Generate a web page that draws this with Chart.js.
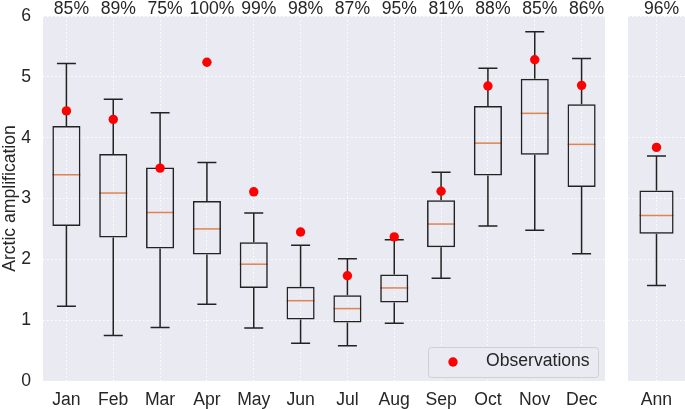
<!DOCTYPE html>
<html>
<head>
<meta charset="utf-8">
<script src="https://cdn.jsdelivr.net/npm/chart.js@4.4.1/dist/chart.umd.min.js"></script>
<style>
  body { margin: 0; background: #fff; }
  canvas { position: absolute; top: 0; }
  #monthly { left: 0; }
  #annual { left: 605px; }
</style>
</head>
<body>
<canvas id="monthly" width="605" height="409"></canvas>
<canvas id="annual" width="80" height="409"></canvas>
<script>
// monthly box plot values
const months = ['Jan', 'Feb', 'Mar', 'Apr', 'May', 'Jun', 'Jul', 'Aug', 'Sep', 'Oct', 'Nov', 'Dec'];
const whiskLow  = [1.23, 0.75, 0.88, 1.26, 0.87, 0.62, 0.58, 0.95, 1.69, 2.55, 2.48, 2.09];
const quart1    = [2.55, 2.36, 2.18, 2.08, 1.53, 1.01, 0.96, 1.29, 2.20, 3.38, 3.72, 3.19];
const medians   = [3.39, 3.09, 2.77, 2.50, 1.92, 1.32, 1.19, 1.53, 2.58, 3.91, 4.40, 3.89];
const quart3    = [4.19, 3.73, 3.51, 2.96, 2.28, 1.55, 1.41, 1.75, 2.97, 4.52, 4.97, 4.55];
const whiskHigh = [5.22, 4.63, 4.41, 3.59, 2.76, 2.23, 2.01, 2.32, 3.43, 5.14, 5.74, 5.30];
const observed  = [4.44, 4.30, 3.50, 5.24, 3.11, 2.45, 1.73, 2.37, 3.12, 4.85, 5.28, 4.86];
const agreement = ['85%', '89%', '75%', '100%', '99%', '98%', '87%', '95%', '81%', '88%', '85%', '86%'];

// annual
const annLabel = ['Ann'];
const annLow   = [1.57];
const annQ1    = [2.42];
const annMed   = [2.72];
const annQ3    = [3.13];
const annHigh  = [3.70];
const annObs   = [3.84];
const annAgree = ['96%'];

const yTicks = [0, 1, 2, 3, 4, 5, 6];

const INK = '#262626';
const FONT = "'Liberation Sans', Arial, sans-serif";
Chart.defaults.font.family = FONT;
Chart.defaults.font.size = 17.6;
Chart.defaults.color = INK;

const boxPlugin = {
  id: 'boxes',
  beforeDraw(chart) {
    const a = chart.chartArea, ctx = chart.ctx;
    ctx.save();
    ctx.fillStyle = '#eaeaf2';
    ctx.fillRect(a.left, a.top, a.right - a.left, a.bottom - a.top);
    ctx.restore();
  },
  beforeDatasetsDraw(chart, args, o) {
    const ctx = chart.ctx, x = chart.scales.x, y = chart.scales.y;
    const bars = chart.getDatasetMeta(1).data;
    ctx.save();
    ctx.lineWidth = 1.5;
    o.lo.forEach((v, i) => {
      const cx = x.getPixelForValue(i);
      const half = bars[i].width / 2;
      // whiskers
      ctx.strokeStyle = '#222';
      ctx.beginPath();
      ctx.moveTo(cx, y.getPixelForValue(o.q1[i]));
      ctx.lineTo(cx, y.getPixelForValue(v));
      ctx.moveTo(cx - 9.5, y.getPixelForValue(v));
      ctx.lineTo(cx + 9.5, y.getPixelForValue(v));
      ctx.moveTo(cx, y.getPixelForValue(o.q3[i]));
      ctx.lineTo(cx, y.getPixelForValue(o.hi[i]));
      ctx.moveTo(cx - 9.5, y.getPixelForValue(o.hi[i]));
      ctx.lineTo(cx + 9.5, y.getPixelForValue(o.hi[i]));
      ctx.stroke();
      // median
      ctx.strokeStyle = '#dd8452';
      ctx.beginPath();
      ctx.moveTo(cx - half, y.getPixelForValue(o.med[i]));
      ctx.lineTo(cx + half, y.getPixelForValue(o.med[i]));
      ctx.stroke();
    });
    ctx.restore();
  },
  afterDraw(chart, args, o) {
    const ctx = chart.ctx, x = chart.scales.x, a = chart.chartArea;
    ctx.save();
    ctx.fillStyle = INK;
    ctx.font = '17.6px ' + FONT;
    ctx.textAlign = 'center';
    ctx.textBaseline = 'alphabetic';
    o.pct.forEach((t, i) => ctx.fillText(t, x.getPixelForValue(i) + 5, 13.5));
    if (o.legend) {
      const lx = a.right - 177, ly = a.bottom - 34;
      ctx.beginPath();
      ctx.roundRect(lx + 0.5, ly + 0.5, 170, 30, 3);
      ctx.fillStyle = 'rgba(234,234,242,0.85)';
      ctx.fill();
      ctx.strokeStyle = '#d0d0d0';
      ctx.lineWidth = 1;
      ctx.stroke();
      ctx.beginPath();
      ctx.arc(lx + 25, ly + 15, 4.7, 0, Math.PI * 2);
      ctx.fillStyle = 'red';
      ctx.fill();
      ctx.fillStyle = INK;
      ctx.textAlign = 'left';
      ctx.textBaseline = 'middle';
      ctx.fillText('Observations', lx + 58, ly + 14);
    }
    ctx.restore();
  }
};

function makeChart(id, labels, lo, q1, med, q3, hi, obs, pct, yWidth, withTitle, withLegend) {
  return new Chart(document.getElementById(id), {
    type: 'bar',
    data: {
      labels: labels,
      datasets: [{
        type: 'line',
        label: 'Observations',
        data: obs,
        showLine: false,
        pointRadius: 4.7,
        pointHoverRadius: 4.7,
        pointBackgroundColor: 'red',
        pointBorderWidth: 0,
        order: 0
      }, {
        label: 'box',
        data: q1.map((v, i) => [v, q3[i]]),
        backgroundColor: 'rgba(0,0,0,0)',
        borderColor: '#222',
        borderWidth: 1.5,
        borderSkipped: false,
        barPercentage: 0.6,
        categoryPercentage: 1,
        order: 1
      }]
    },
    options: {
      responsive: false,
      animation: false,
      layout: { autoPadding: false, padding: { top: 16, left: 0, right: 0, bottom: 0 } },
      plugins: {
        legend: { display: false },
        tooltip: { enabled: false },
        boxes: { lo: lo, q1: q1, med: med, q3: q3, hi: hi, pct: pct, legend: withLegend }
      },
      scales: {
        x: {
          offset: true,
          grid: { color: '#fff', lineWidth: 1, offset: false, drawTicks: false },
          border: { display: false, dash: [1.5, 2.5] },
          ticks: { padding: 9, color: INK },
          afterFit: s => { s.height = 28; s.paddingLeft = 0; s.paddingRight = 0; }
        },
        y: {
          min: yTicks[0],
          max: yTicks[yTicks.length - 1],
          grid: { color: '#fff', lineWidth: 1, drawTicks: false },
          border: { display: false, dash: [1.5, 2.5] },
          ticks: { stepSize: 1, padding: 12, display: withTitle, color: INK },
          title: { display: withTitle, text: 'Arctic amplification', padding: 0, color: INK },
          afterFit: s => { s.width = yWidth; s.paddingTop = 0; s.paddingBottom = 0; }
        }
      }
    },
    plugins: [boxPlugin]
  });
}

makeChart('monthly', months, whiskLow, quart1, medians, quart3, whiskHigh, observed, agreement, 43, true, true);
makeChart('annual', annLabel, annLow, annQ1, annMed, annQ3, annHigh, annObs, annAgree, 23, false, false);
</script>
</body>
</html>
